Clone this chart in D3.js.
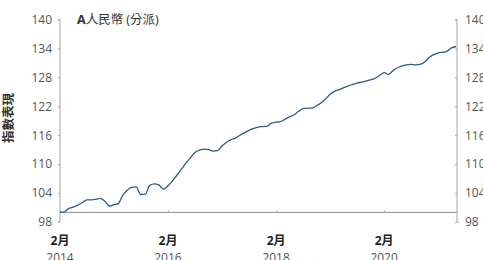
<!DOCTYPE html>
<html>
<head>
<meta charset="utf-8">
<script src="https://cdn.jsdelivr.net/npm/d3@7"></script>
<style>
  body { margin: 0; background: #fff; }
  svg { display: block; }
  svg text { font-family: "Open Sans", "Noto Sans CJK TC", sans-serif; }
</style>
</head>
<body>
<svg id="chart" width="483" height="260"></svg>
<script>
// monthly index, Feb 2014 .. Jun 2021
const startMonth = "2014-02";
const values = [
    100.0, 100.1, 100.8, 101.1, 101.5, 102.0, 102.6, 102.6, 102.7, 102.9, 102.3, 101.3,
    101.6, 101.8, 103.5, 104.6, 105.2, 105.3, 103.7, 103.8, 105.6, 105.9, 105.7, 104.8,
    105.5, 106.5, 107.7, 108.9, 110.2, 111.3, 112.4, 112.9, 113.1, 113.0, 112.7, 112.8,
    113.8, 114.5, 115.1, 115.4, 116.0, 116.5, 117.0, 117.4, 117.7, 117.8, 117.9, 118.5,
    118.7, 118.8, 119.3, 119.8, 120.2, 120.9, 121.5, 121.6, 121.6, 122.1, 122.7, 123.5,
    124.5, 125.1, 125.4, 125.8, 126.2, 126.5, 126.8, 127.0, 127.2, 127.5, 127.8, 128.4,
    129.0, 128.6, 129.4, 130.0, 130.4, 130.6, 130.7, 130.6, 130.7, 131.2, 132.1, 132.7,
    133.1, 133.2, 133.4, 134.1, 134.4
];
const yTicks = [98, 104, 110, 116, 122, 128, 134, 140];
const xTickDates = ["2014-02", "2016-02", "2018-02", "2020-02"];
const xTickMonth = "2月";
const baseValue = 100;
const title = "人民幣 (分派)";
const titlePrefix = "A";
const yTitle = "指數表現";

const parse = d3.timeParse("%Y-%m");
const start = parse(startMonth);
const points = values.map((v, i) => ({ date: d3.timeMonth.offset(start, i), value: v }));

const svg = d3.select("#chart");

const x = d3.scaleTime()
    .domain([start, points[points.length - 1].date])
    .range([60, 456]);

const y = d3.scaleLinear()
    .domain([98, 140])
    .range([222, 19.5]);

const axisColor = "#a6a6a6";
const labelColor = "#555";

// left axis
const left = svg.append("g")
    .attr("transform", "translate(60,0)")
    .call(d3.axisLeft(y).tickValues(yTicks).tickSize(2).tickPadding(6));
left.select(".domain").attr("stroke", axisColor).attr("d", `M-2,${y(140)}H0V${y(98)}H-2`);
left.selectAll(".tick line").attr("stroke", axisColor);
left.selectAll(".tick text").attr("fill", labelColor).style("font-size", "12px");

// right axis, ticks pointing in
const right = svg.append("g")
    .attr("transform", "translate(457,0)")
    .call(d3.axisRight(y).tickValues(yTicks).tickSize(2).tickPadding(6));
right.select(".domain").attr("stroke", axisColor).attr("d", `M-2,${y(140)}H0V${y(98)}H2`);
right.selectAll(".tick line").attr("stroke", axisColor).attr("x2", -2);
right.selectAll(".tick text").attr("fill", labelColor).attr("x", 8).style("font-size", "12px");

// x axis at base value
const bottom = svg.append("g")
    .attr("transform", `translate(0,${y(baseValue)})`)
    .call(d3.axisTop(x).tickValues(xTickDates.map(parse)).tickSize(2).tickFormat(""));
bottom.select(".domain").attr("stroke", "#8c8c8c").attr("d", `M60,0H457`);
bottom.selectAll(".tick line").attr("stroke", axisColor);

// x labels
const xl = svg.append("g");
xTickDates.forEach(d => {
    const t = xl.append("text")
        .attr("x", x(parse(d)))
        .attr("text-anchor", "middle")
        .attr("fill", "#222")
        .style("font-size", "12px");
    t.append("tspan").attr("x", x(parse(d))).attr("y", 245).attr("font-weight", "bold").text(xTickMonth);
    t.append("tspan").attr("x", x(parse(d))).attr("y", 262).attr("fill", labelColor).text(d.slice(0, 4));
});

// line
const line = d3.line()
    .x(d => x(d.date))
    .y(d => y(d.value))
    .curve(d3.curveMonotoneX);

svg.append("path")
    .datum(points)
    .attr("fill", "none")
    .attr("stroke", "#2c5a8c")
    .attr("stroke-width", 1.3)
    .attr("d", line);

// title
const tt = svg.append("text")
    .attr("x", 77)
    .attr("y", 24)
    .attr("fill", "#333")
    .style("font-size", "12.5px");
tt.append("tspan").attr("font-weight", "bold").text(titlePrefix);
tt.append("tspan").text(title);

// y title
svg.append("text")
    .attr("transform", "translate(13,118) rotate(-90)")
    .attr("text-anchor", "middle")
    .attr("font-weight", "bold")
    .attr("fill", "#333")
    .style("font-size", "12.5px")
    .text(yTitle);
</script>
</body>
</html>
